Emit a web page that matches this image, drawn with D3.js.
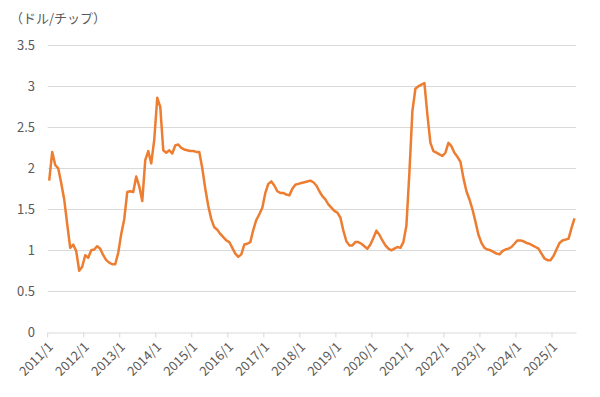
<!DOCTYPE html>
<html>
<head>
<meta charset="utf-8">
<script src="https://cdn.jsdelivr.net/npm/d3@7/dist/d3.min.js"></script>
<style>
  body { margin: 0; background: #fff; }
  svg text { font-family: "Noto Sans CJK JP", "Noto Sans", sans-serif; fill: #595959; }
</style>
</head>
<body>
<svg id="chart" width="600" height="397"></svg>
<script>
// monthly price, 2011/1 .. 2025/8 (USD per chip)
var years = [2011, 2012, 2013, 2014, 2015, 2016, 2017, 2018, 2019, 2020, 2021, 2022, 2023, 2024, 2025];
var yTicks = [0, 0.5, 1, 1.5, 2, 2.5, 3, 3.5];
var unitLabel = "（ドル/チップ）";

var prices = [
    1.85, 2.20, 2.04, 2.00, 1.82, 1.62, 1.32, 1.03, 1.07, 0.99, 0.75, 0.80,
    0.94, 0.91, 1.00, 1.01, 1.05, 1.02, 0.94, 0.88, 0.85, 0.83, 0.83, 0.97,
    1.20, 1.38, 1.71, 1.72, 1.71, 1.90, 1.78, 1.60, 2.10, 2.21, 2.06, 2.35,
    2.86, 2.75, 2.22, 2.19, 2.22, 2.18, 2.28, 2.29, 2.25, 2.23, 2.22, 2.21,
    2.21, 2.20, 2.20, 2.00, 1.75, 1.54, 1.38, 1.28, 1.25, 1.20, 1.16, 1.12,
    1.10, 1.03, 0.96, 0.92, 0.95, 1.07, 1.08, 1.10, 1.25, 1.37, 1.44, 1.52,
    1.70, 1.81, 1.84, 1.79, 1.72, 1.70, 1.70, 1.68, 1.67, 1.75, 1.80, 1.81,
    1.82, 1.83, 1.84, 1.85, 1.83, 1.79, 1.72, 1.66, 1.62, 1.56, 1.52, 1.48,
    1.46, 1.40, 1.24, 1.11, 1.06, 1.06, 1.10, 1.10, 1.08, 1.05, 1.02, 1.07,
    1.15, 1.24, 1.19, 1.12, 1.06, 1.02, 1.00, 1.02, 1.04, 1.03, 1.10, 1.30,
    1.95, 2.70, 2.97, 3.00, 3.02, 3.04, 2.65, 2.31, 2.21, 2.19, 2.17, 2.15,
    2.19, 2.31, 2.27, 2.19, 2.14, 2.08, 1.88, 1.72, 1.62, 1.50, 1.35, 1.19,
    1.09, 1.03, 1.01, 1.00, 0.98, 0.96, 0.95, 0.99, 1.01, 1.02, 1.04, 1.08,
    1.12, 1.12, 1.11, 1.09, 1.08, 1.06, 1.04, 1.02, 0.96, 0.90, 0.88, 0.88,
    0.93, 1.01, 1.09, 1.12, 1.13, 1.14, 1.27, 1.39
];

var months = [];
years.forEach(function(yr) {
    for (var m = 1; m <= 12; m++) months.push(yr + "/" + m);
});
months = months.slice(0, prices.length);

var svg = d3.select("#chart");
var plotLeft = 47.7, plotRight = 576, plotTop = 45.3, plotBottom = 332.3;

var x = d3.scaleBand().domain(months).range([plotLeft, plotRight]);
var y = d3.scaleLinear().domain([0, 3.5]).range([plotBottom, plotTop]);

// gridlines
svg.append("g")
    .selectAll("line")
    .data(yTicks.slice(1))
    .enter().append("line")
    .attr("x1", plotLeft).attr("x2", plotRight)
    .attr("y1", function(d) { return Math.round(y(d)) + 0.5; })
    .attr("y2", function(d) { return Math.round(y(d)) + 0.5; })
    .attr("stroke", "#d9d9d9").attr("stroke-width", 1);

// y labels
svg.append("g")
    .selectAll("text")
    .data(yTicks)
    .enter().append("text")
    .attr("x", 35).attr("y", function(d) { return y(d); })
    .attr("dy", "0.35em")
    .attr("text-anchor", "end")
    .attr("font-size", 13)
    .text(function(d) { return d; });

// x axis: ticks at each January
var yearStarts = years.map(function(yr) { return yr + "/1"; });
var xAxis = d3.axisBottom(x)
    .tickValues(yearStarts)
    .tickSize(5)
    .tickSizeOuter(0);

var gx = svg.append("g")
    .attr("transform", "translate(0," + (Math.round(plotBottom) + 0.5) + ")")
    .call(xAxis);
gx.select(".domain").attr("stroke", "#d9d9d9");
gx.selectAll(".tick line")
    .attr("stroke", "#d9d9d9")
    .attr("transform", "translate(" + (-x.bandwidth() / 2) + ",0)");
gx.selectAll(".tick text")
    .attr("fill", "#595959")
    .attr("font-size", 13)
    .attr("text-anchor", "end")
    .attr("transform", "translate(" + (-x.bandwidth() / 2 + 3) + ",12) rotate(-45)")
    .attr("x", 0).attr("y", 0).attr("dy", "0.35em");

// line
var line = d3.line()
    .x(function(d, i) { return x(months[i]) + x.bandwidth() / 2; })
    .y(function(d) { return y(d); });

svg.append("path")
    .datum(prices)
    .attr("fill", "none")
    .attr("stroke", "#ED7D31")
    .attr("stroke-width", 2.5)
    .attr("stroke-linejoin", "round")
    .attr("d", line);

// unit label
svg.append("text")
    .attr("x", 10).attr("y", 23)
    .attr("font-size", 13)
    .text(unitLabel);
</script>
</body>
</html>
